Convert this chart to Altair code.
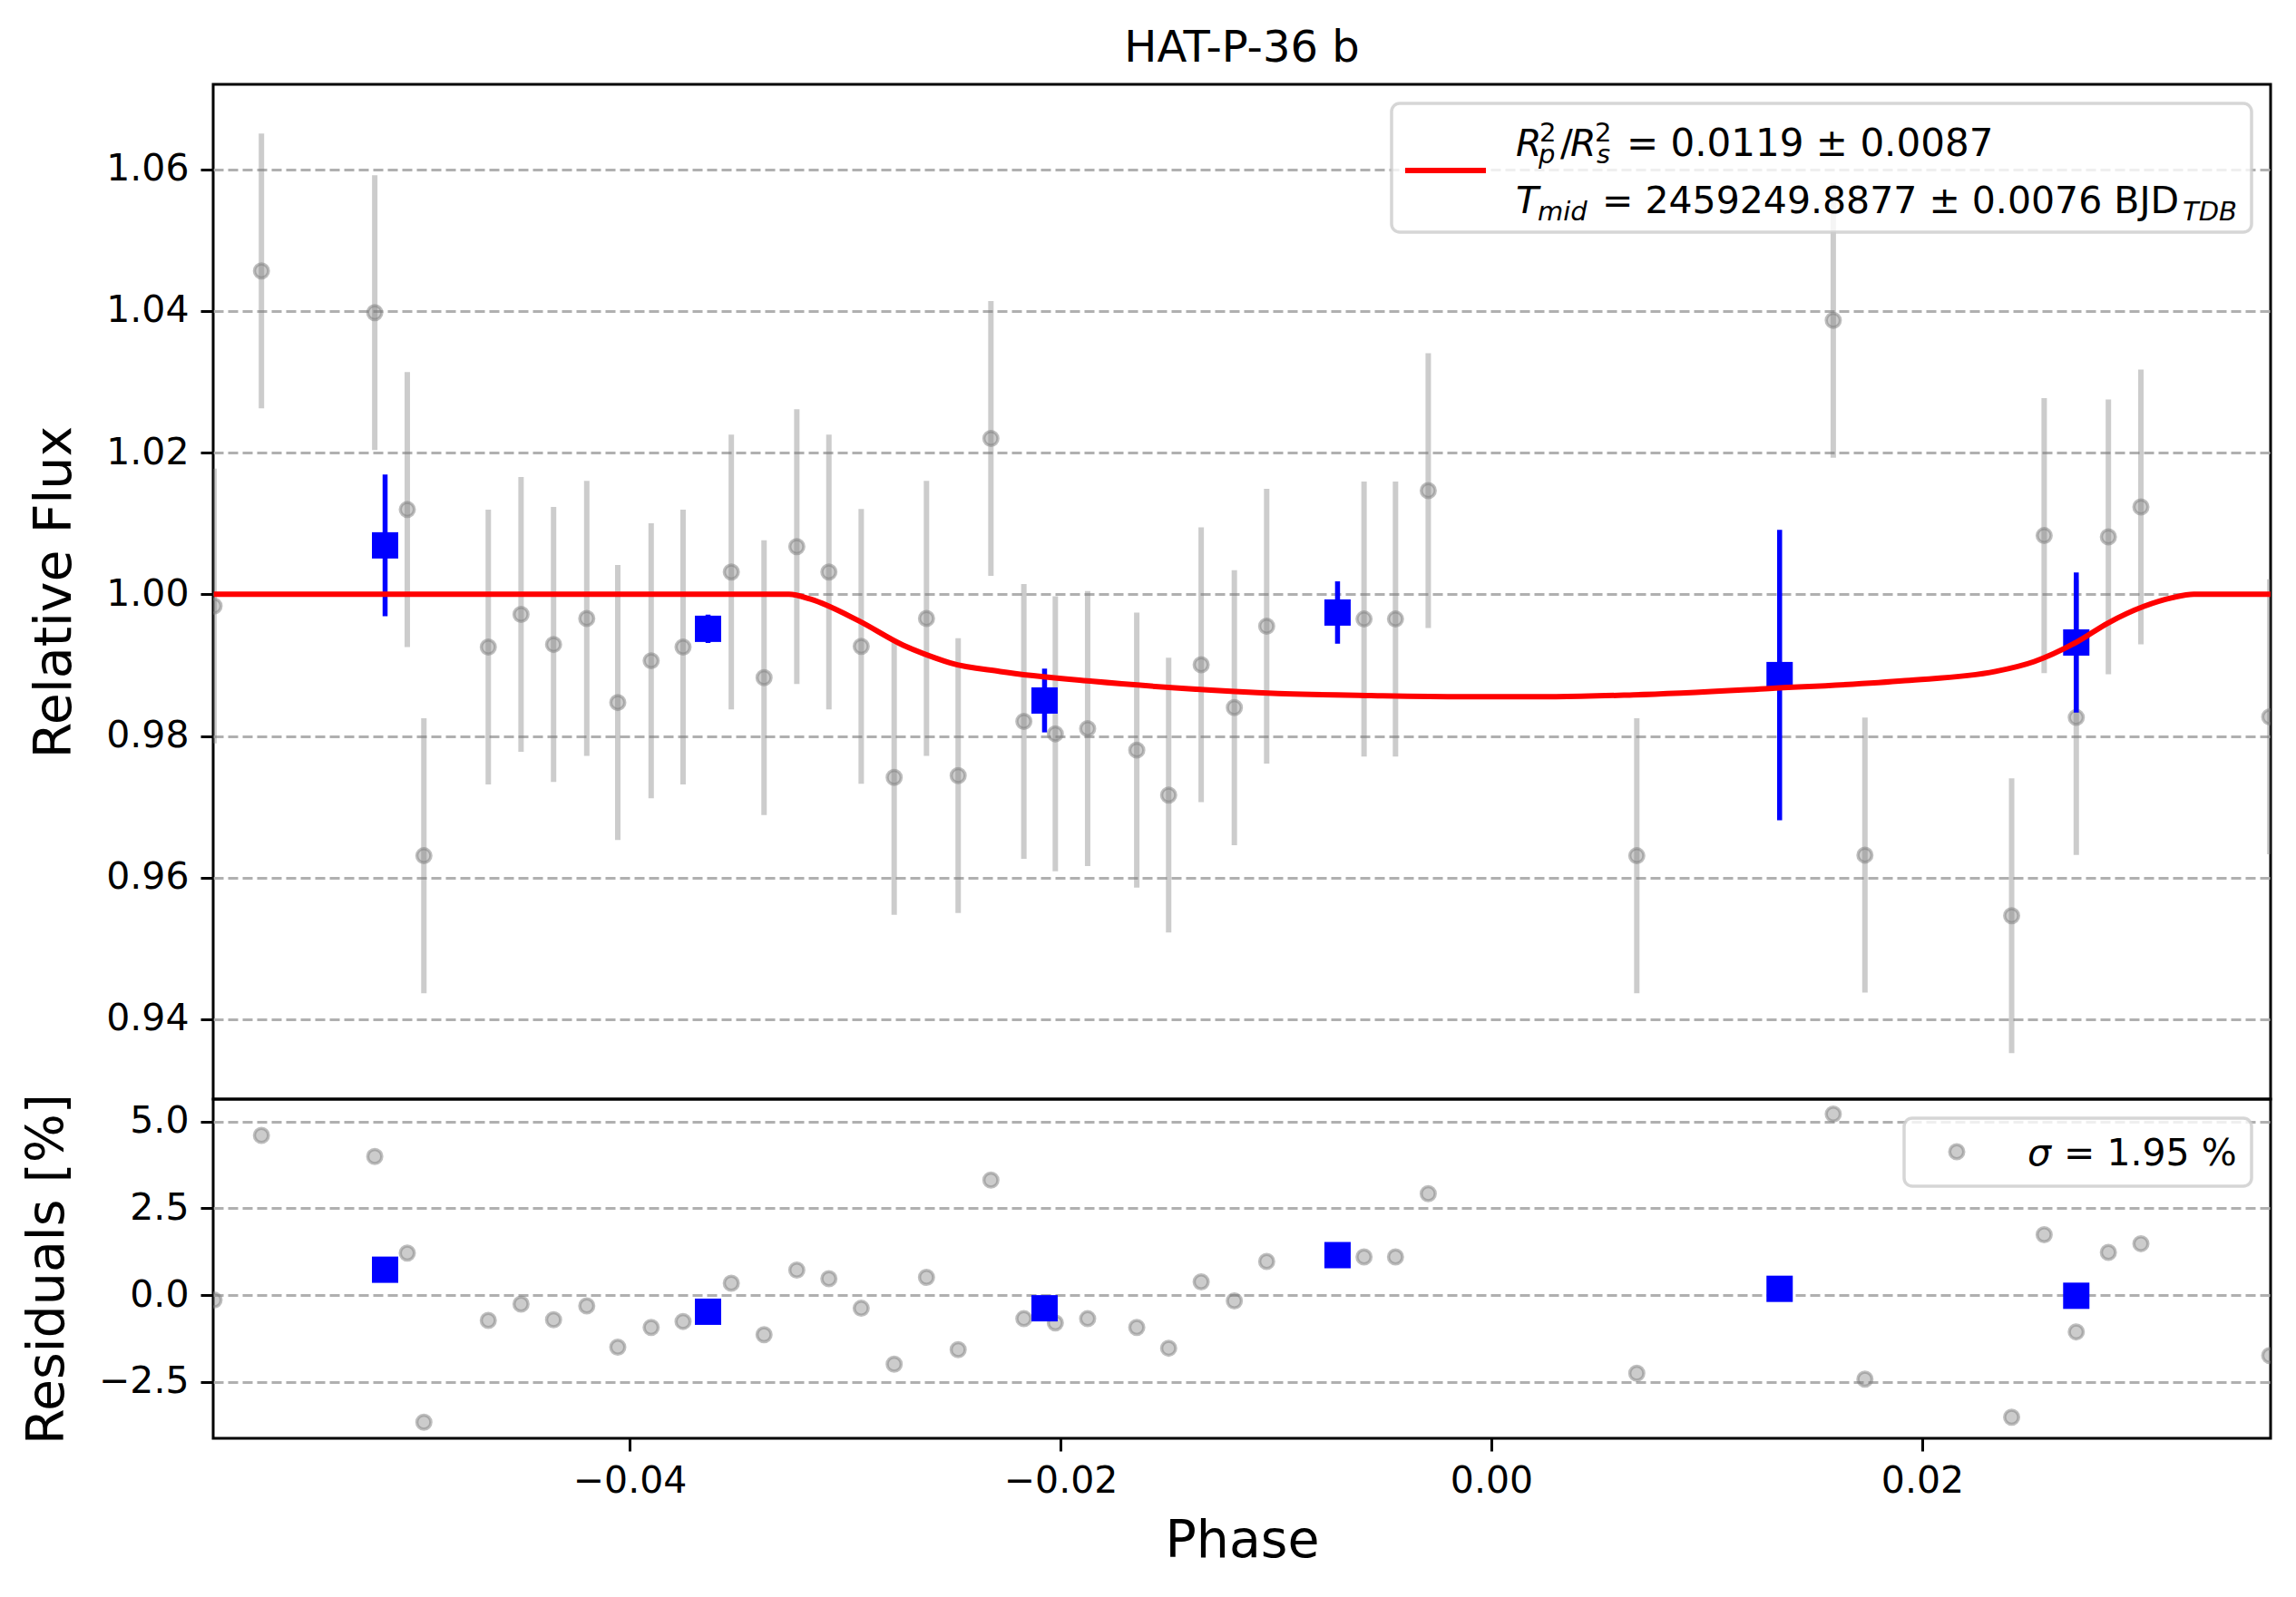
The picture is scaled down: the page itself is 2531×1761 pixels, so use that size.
import altair as alt
import pandas as pd

# unbinned points (phase, relative flux, error, residual in %)
phase = [-0.05929, -0.05709, -0.05183, -0.05032, -0.04955, -0.04656, -0.04504, -0.04353,
         -0.04199, -0.04055, -0.03900, -0.03752, -0.03528, -0.03376, -0.03224, -0.03075,
         -0.02925, -0.02772, -0.02622, -0.02475, -0.02323, -0.02170, -0.02024, -0.01874,
         -0.01646, -0.01498, -0.01347, -0.01193, -0.01043, -0.00591, -0.00445, -0.00293,
         0.00675, 0.01587, 0.01734, 0.02415, 0.02566, 0.02715, 0.02864, 0.03015, 0.03613]
flux = [0.99834, 1.04565, 1.03976, 1.01196, 0.96309, 0.99254, 0.99715, 0.99291,
        0.99659, 0.98472, 0.99061, 0.99254, 1.00313, 0.98822, 1.00672, 1.00313,
        0.99264, 0.97414, 0.99659, 0.97441, 1.02200, 0.98205, 0.98030, 0.98104,
        0.97800, 0.97165, 0.99006, 0.98399, 0.99549, 0.99650, 0.99650, 1.01463,
        0.96309, 1.03866, 0.96318, 0.95463, 1.00828, 0.98261, 1.00810, 1.01233, 0.98270]
flux_err = [0.0194] * 41
resid = [-0.14, 4.60, 3.99, 1.21, -3.66, -0.73, -0.26, -0.71,
         -0.31, -1.50, -0.93, -0.76, 0.34, -1.14, 0.72, 0.47,
         -0.38, -1.99, 0.51, -1.57, 3.31, -0.68, -0.80, -0.68,
         -0.93, -1.53, 0.38, -0.17, 0.97, 1.10, 1.10, 2.92,
         -2.25, 5.21, -2.42, -3.52, 1.74, -1.06, 1.23, 1.48, -1.74]

# binned points
bin_phase = [-0.05135, -0.03636, -0.02074, -0.00714, 0.01338, 0.02715]
bin_flux = [1.0069, 0.99512, 0.98500, 0.99742, 0.98859, 0.99319]
bin_err = [0.0100, 0.0020, 0.0045, 0.0044, 0.0205, 0.0099]
bin_resid = [0.73, -0.48, -0.38, 1.15, 0.18, -0.02]

# transit model
model_phase = [-0.0593, -0.0326, -0.0316, -0.0294, -0.0273, -0.0258, -0.0251, -0.0228,
               -0.0185, -0.0142, -0.0099, -0.0056, -0.0013, 0.0030, 0.0066, 0.0129,
               0.0192, 0.0234, 0.0252, 0.0272, 0.0286, 0.0303, 0.0316, 0.0326, 0.0362]
model_flux = [1.0, 1.0, 0.9993, 0.9963, 0.9928, 0.9910, 0.9903, 0.9891,
              0.9877, 0.9867, 0.9860, 0.9857, 0.98555, 0.98555, 0.9858, 0.9867,
              0.9878, 0.9891, 0.9905, 0.9933, 0.9959, 0.9983, 0.9995, 1.0, 1.0]

x_ticks = [-0.04, -0.02, 0.0, 0.02]
flux_ticks = [0.94, 0.96, 0.98, 1.00, 1.02, 1.04, 1.06]
resid_ticks = [-2.5, 0.0, 2.5, 5.0]

raw = pd.DataFrame({"phase": phase, "flux": flux, "err": flux_err, "resid": resid})
raw["lo"] = raw["flux"] - raw["err"]
raw["hi"] = raw["flux"] + raw["err"]
binned = pd.DataFrame({"phase": bin_phase, "flux": bin_flux, "err": bin_err, "resid": bin_resid})
binned["lo"] = binned["flux"] - binned["err"]
binned["hi"] = binned["flux"] + binned["err"]
model = pd.DataFrame({"phase": model_phase, "flux": model_flux})
one = pd.DataFrame({"k": [0]})

W = 2268
FONT = "DejaVu Sans"

xs = alt.Scale(domain=[-0.05933, 0.03617], nice=False, zero=False)
ys_top = alt.Scale(domain=[0.92873, 1.07198], nice=False, zero=False)
ys_bot = alt.Scale(domain=[-4.125, 5.643], nice=False, zero=False)

x_none = alt.X("phase:Q", scale=xs, axis=None)
x_bot = alt.X("phase:Q", scale=xs, axis=alt.Axis(values=x_ticks, format=".2f", title="Phase",
                                                 grid=False, titlePadding=18))
y_top_axis = alt.Axis(values=flux_ticks, format=".2f", title="Relative Flux", grid=True, titlePadding=27)
y_bot_axis = alt.Axis(values=resid_ticks, format=".1f", title="Residuals [%]", grid=True, titlePadding=27)


def txt(s, x, y, size=41, italic=False):
    return alt.Chart(one).mark_text(
        text=s, align="left", baseline="alphabetic", font=FONT, fontSize=size,
        fontStyle="italic" if italic else "normal", color="black"
    ).encode(x=alt.value(x), y=alt.value(y))


def gray_dots(data, ycol, scale, axis, xenc):
    return alt.Chart(data).mark_point(
        shape="circle", filled=True, color="gray", opacity=1, fillOpacity=0.4,
        stroke="gray", strokeOpacity=0.5, strokeWidth=3.5, size=240, clip=True
    ).encode(x=xenc, y=alt.Y(f"{ycol}:Q", scale=scale, axis=axis))


# --- top panel
bars = alt.Chart(raw).mark_rule(color="gray", opacity=0.4, strokeWidth=6, clip=True).encode(
    x=x_none, y=alt.Y("lo:Q", scale=ys_top, axis=y_top_axis), y2="hi:Q")
dots = gray_dots(raw, "flux", ys_top, y_top_axis, x_none)
bbars = alt.Chart(binned).mark_rule(color="blue", strokeWidth=5.5).encode(
    x=x_none, y=alt.Y("lo:Q", scale=ys_top, axis=y_top_axis), y2="hi:Q")
bdots = alt.Chart(binned).mark_square(color="blue", size=841, opacity=1).encode(
    x=x_none, y=alt.Y("flux:Q", scale=ys_top, axis=y_top_axis))
line = alt.Chart(model).mark_line(color="red", strokeWidth=6, clip=True, interpolate="monotone").encode(
    x=x_none, y=alt.Y("flux:Q", scale=ys_top, axis=y_top_axis))

leg_box = alt.Chart(one).mark_rect(
    fill="white", fillOpacity=0.8, stroke="#cccccc", strokeOpacity=0.8, strokeWidth=3.5, cornerRadius=9
).encode(x=alt.value(1299), x2=alt.value(2247), y=alt.value(21), y2=alt.value(163))
leg_line = alt.Chart(one).mark_rule(color="red", strokeWidth=6).encode(
    x=alt.value(1314), x2=alt.value(1403), y=alt.value(95))
leg_text = [
    txt("R", 1436, 79, italic=True),
    txt("2", 1462, 63, size=29),
    txt("p", 1461, 87, size=29, italic=True),
    txt("/", 1485, 79),
    txt("R", 1496, 79, italic=True),
    txt("2", 1523, 63, size=29),
    txt("s", 1525, 87, size=29, italic=True),
    txt("= 0.0119 ± 0.0087", 1558, 79, size=42),
    txt("T", 1436, 142, italic=True),
    txt("mid", 1460, 150, size=29, italic=True),
    txt("= 2459249.8877 ± 0.0076 BJD", 1531, 142),
    txt("TDB", 2171, 150, size=29, italic=True),
]

top = alt.layer(bars, dots, bbars, bdots, line, leg_box, leg_line, *leg_text).properties(
    width=W, height=1119,
    title=alt.TitleParams("HAT-P-36 b", font=FONT, fontSize=48, fontWeight="normal",
                          color="black", anchor="middle", offset=15),
)

# --- residual panel
rdots = gray_dots(raw, "resid", ys_bot, y_bot_axis, x_bot)
rbdots = alt.Chart(binned).mark_square(color="blue", size=841, opacity=1).encode(
    x=x_bot, y=alt.Y("resid:Q", scale=ys_bot, axis=y_bot_axis))
rleg_box = alt.Chart(one).mark_rect(
    fill="white", fillOpacity=0.8, stroke="#cccccc", strokeOpacity=0.8, strokeWidth=3.5, cornerRadius=9
).encode(x=alt.value(1864), x2=alt.value(2247), y=alt.value(21), y2=alt.value(96))
rleg_dot = alt.Chart(one).mark_point(
    shape="circle", filled=True, color="gray", opacity=1, fillOpacity=0.4,
    stroke="gray", strokeOpacity=0.5, strokeWidth=3.5, size=240
).encode(x=alt.value(1922), y=alt.value(58))

bottom = alt.layer(rdots, rbdots, rleg_box, rleg_dot,
                   txt("σ", 2000, 73, italic=True), txt("= 1.95 %", 2040, 73)).properties(
    width=W, height=374)

chart = alt.vconcat(top, bottom, spacing=0, bounds="flush").properties(
    padding={"left": 13, "top": 20, "right": 10, "bottom": 10}
).configure_view(stroke="black", strokeWidth=3).configure_axis(
    labelFont=FONT, labelFontSize=41, labelColor="black",
    titleFont=FONT, titleFontSize=57, titleFontWeight="normal", titleColor="black",
    tickColor="black", tickWidth=3, tickSize=14, labelPadding=13,
    domain=False, gridColor="#b0b0b0", gridWidth=3, gridDash=[11, 5],
)

chart.save("out.html", embed_options={"renderer": "svg", "actions": False})
